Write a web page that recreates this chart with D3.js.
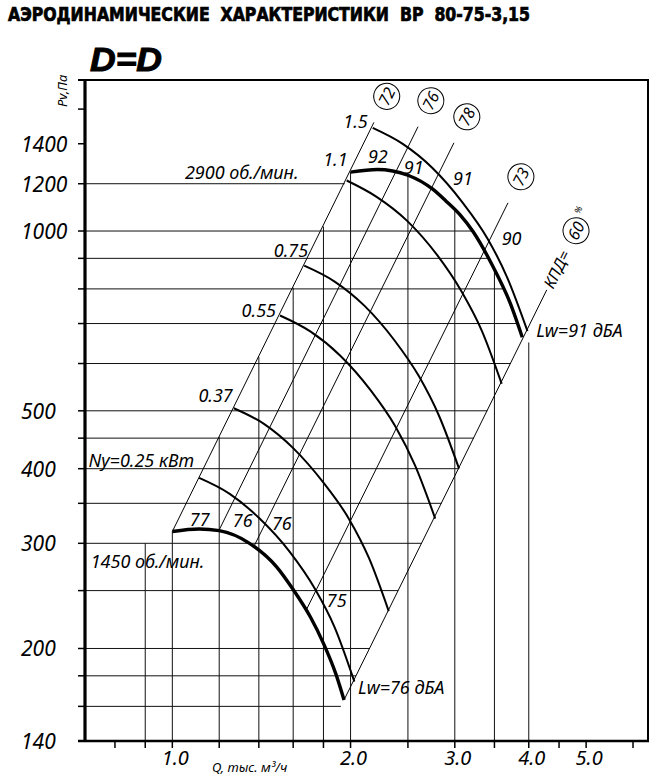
<!DOCTYPE html>
<html>
<head>
<meta charset="utf-8">
<script src="https://cdn.jsdelivr.net/npm/d3@7"></script>
<style>
  body { margin: 0; background: #fff; }
  text { font-family: 'Noto Sans', 'Open Sans', sans-serif; font-style: italic; fill: #000; }
</style>
</head>
<body>
<script>
// ---- values ----
const qTicks = [0.8, 0.9, 1.0, 1.2, 1.4, 1.6, 1.8, 2.0, 2.5, 3.0, 3.5, 4.0, 4.5, 5.0, 6.0];
const qTickLabels = [1.0, 2.0, 3.0, 4.0, 5.0];
const qGrid = [0.9, 1.0, 1.2, 1.4, 1.6, 1.8, 2.0, 2.5, 3.0, 3.5, 4.0];

const pTicks = [140, 160, 180, 200, 250, 300, 350, 400, 450, 500, 600, 700, 800, 900, 1000, 1200, 1400, 1600];
const pTickLabels = [140, 200, 300, 400, 500, 1000, 1200, 1400];
const pGrid = [160, 180, 200, 250, 300, 350, 400, 450, 500, 600, 700, 800, 900, 1000, 1200];

// fan curves, [Q thous. m3/h, Pv Pa]
const curve1450 = [[1.0, 314], [1.11, 317], [1.2, 315], [1.35, 300], [1.5, 274], [1.6, 251],
  [1.71, 226], [1.8, 204], [1.89, 181], [1.95, 164]];
const curve2900 = [[2.0, 1255], [2.22, 1268], [2.5, 1240], [2.75, 1176], [2.9, 1122], [3.06, 1065],
  [3.22, 998], [3.48, 872], [3.72, 758], [3.9, 664]];

const powerNames = ['Ny=0.25 кВт', '0.37', '0.55', '0.75', '1.1', '1.5'];
const power025 = [[1.11, 386], [1.25, 363], [1.4, 331], [1.58, 290], [1.74, 252], [1.88, 217], [2.03, 176]];
const power037 = [[1.27, 505], [1.43, 475], [1.6, 433], [1.8, 379], [1.99, 329], [2.15, 283], [2.32, 231]];
const power055 = [[1.52, 722], [1.71, 679], [1.92, 619], [2.16, 542], [2.38, 471], [2.57, 405], [2.78, 330]];
const power075 = [[1.67, 875], [1.88, 823], [2.11, 750], [2.37, 657], [2.61, 571], [2.82, 491], [3.05, 400]];
const power110 = [[1.97, 1215], [2.21, 1142], [2.49, 1041], [2.8, 912], [3.08, 792], [3.33, 682], [3.6, 555]];
const power150 = [[2.18, 1488], [2.45, 1399], [2.75, 1275], [3.09, 1117], [3.41, 970], [3.68, 835], [3.98, 680]];
const powerCurves = [power025, power037, power055, power075, power110, power150];

// efficiency lines (P ~ Q^2, straight on log-log paper)
const effNames = ['72', '76', '78', '73', '60'];
const effFrom = [[1.0, 314], [1.2, 316], [1.37, 295], [1.68, 231], [1.95, 164]];
const effTo = [[2.19, 1520], [2.6, 1495], [2.99, 1405], [3.69, 1115], [4.29, 797]];

// sound levels written between the efficiency lines
const noise2900 = ['92', '91', '91', '90'];
const noise2900At = [[2.14, 1300], [2.46, 1247], [2.98, 1195], [3.6, 948]];
const noise1450 = ['77', '76', '76', '75'];
const noise1450At = [[1.07, 321], [1.265, 320], [1.473, 316], [1.824, 235]];

const rpmNames = ['2900 об./мин.', '1450 об./мин.'];
const rpmAt = [[1.05, 1223], [0.728, 273]];

// ---- drawing ----
const W = 659, H = 776;
const svg = d3.select('body').append('svg').attr('width', W).attr('height', H);

const x = d3.scaleLog().domain([0.712, 6.36]).range([85, 648]);
const y = d3.scaleLog().domain([140, 1790]).range([741, 80]);

const L = Math.log;
const k72 = effFrom[0][1] / effFrom[0][0] ** 2;
const k60 = effFrom[4][1] / effFrom[4][0] ** 2;
const last = (a) => a[a.length - 1];

const pOnCurve = (pts, q) => {
  for (let i = 0; i < pts.length - 1; i++) {
    const [q0, p0] = pts[i], [q1, p1] = pts[i + 1];
    if (q >= q0 && q <= q1) {
      const t = (L(q) - L(q0)) / (L(q1) - L(q0));
      return Math.exp(L(p0) + t * (L(p1) - L(p0)));
    }
  }
  return last(pts)[1];
};

const qOnFalling = (pts, p) => {
  let top = d3.maxIndex(pts, (d) => d[1]);
  for (let i = top; i < pts.length - 1; i++) {
    const [q0, p0] = pts[i], [q1, p1] = pts[i + 1];
    if (p <= p0 && p >= p1) {
      const t = (L(p) - L(p0)) / (L(p1) - L(p0));
      return Math.exp(L(q0) + t * (L(q1) - L(q0)));
    }
  }
  return last(pts)[0];
};

// horizontal grid runs from the axis to the edge of the working field
const rightEdge = (p) => {
  if (p >= 1200) return Math.sqrt(p / k72);
  if (p <= last(curve2900)[1]) return Math.sqrt(p / k60);
  return qOnFalling(curve2900, p);
};
// vertical grid runs from the bottom up to the upper edge of the field
const topEdge = (q) => {
  if (q <= curve2900[0][0]) return Math.max(k72 * q * q, 300);
  if (q >= last(curve2900)[0]) return last(curve2900)[1] * 0.98;
  return pOnCurve(curve2900, q);
};

const grid = svg.append('g').attr('stroke', '#111').attr('stroke-width', 1);
grid.selectAll('line.h').data(pGrid).join('line').attr('class', 'h')
  .attr('x1', x.range()[0]).attr('x2', (d) => x(rightEdge(d)))
  .attr('y1', (d) => y(d)).attr('y2', (d) => y(d));
grid.selectAll('line.v').data(qGrid).join('line').attr('class', 'v')
  .attr('x1', (d) => x(d)).attr('x2', (d) => x(d))
  .attr('y1', y.range()[0]).attr('y2', (d) => y(topEdge(d)));

// efficiency lines
const effPix = effNames.map((n, i) => {
  const a = [x(effFrom[i][0]), y(effFrom[i][1])];
  const b = [x(effTo[i][0]), y(effTo[i][1])];
  const len = Math.hypot(b[0] - a[0], b[1] - a[1]);
  const u = [(b[0] - a[0]) / len, (b[1] - a[1]) / len];
  return { name: n, a, b, u, ang: Math.atan2(u[1], u[0]) * 180 / Math.PI };
});

svg.append('g').attr('stroke', '#000').attr('stroke-width', 1)
  .selectAll('line').data(effPix).join('line')
  .attr('x1', (d) => d.a[0]).attr('y1', (d) => d.a[1])
  .attr('x2', (d) => d.b[0]).attr('y2', (d) => d.b[1]);

const circ = svg.append('g').selectAll('g').data(effPix).join('g')
  .attr('transform', (d) => {
    const dist = d.name === '60' ? 66 : 29;
    return `translate(${d.b[0] + d.u[0] * dist},${d.b[1] + d.u[1] * dist})rotate(${d.ang})`;
  });
circ.append('circle').attr('r', 13).attr('fill', '#fff').attr('stroke', '#000').attr('stroke-width', 1);
circ.append('text').text((d) => d.name)
  .attr('text-anchor', 'middle').attr('dy', '0.36em').attr('font-size', 16);
circ.filter((d) => d.name === '60').append('text').text('%')
  .attr('x', 16).attr('y', -4).attr('font-size', 9);

const e60 = effPix[4];
svg.append('text').text('КПД=')
  .attr('transform', `translate(${e60.b[0] + e60.u[0] * 3},${e60.b[1] + e60.u[1] * 3})rotate(${e60.ang})`)
  .attr('dy', '0.36em').attr('font-size', 16);

// fan curves
const line = d3.line().x((d) => x(d[0])).y((d) => y(d[1])).curve(d3.curveMonotoneX);

svg.append('g').attr('fill', 'none').attr('stroke', '#000').attr('stroke-width', 2)
  .selectAll('path').data(powerCurves).join('path').attr('d', line);

svg.append('g').attr('fill', 'none').attr('stroke', '#000').attr('stroke-width', 3.4)
  .selectAll('path').data([curve1450, curve2900]).join('path').attr('d', line);

// labels on the curves
const labelSize = 18;
const powerOffsets = [[-5, -11], [-1, -6], [-4, 1], [4, -9], [1, -15], [-5, 0]];
svg.append('g').attr('font-size', labelSize).selectAll('text').data(powerNames).join('text')
  .text((d) => d)
  .attr('text-anchor', 'end')
  .attr('x', (d, i) => x(powerCurves[i][0][0]) + powerOffsets[i][0])
  .attr('y', (d, i) => y(powerCurves[i][0][1]) + powerOffsets[i][1]);

const noiseG = svg.append('g').attr('font-size', labelSize);
noiseG.selectAll('text.a').data(noise2900).join('text').attr('class', 'a')
  .text((d) => d)
  .attr('x', (d, i) => x(noise2900At[i][0])).attr('y', (d, i) => y(noise2900At[i][1]));
noiseG.selectAll('text.b').data(noise1450).join('text').attr('class', 'b')
  .text((d) => d)
  .attr('x', (d, i) => x(noise1450At[i][0])).attr('y', (d, i) => y(noise1450At[i][1]));

svg.append('g').attr('font-size', labelSize).selectAll('text').data(rpmNames).join('text')
  .text((d) => d)
  .attr('x', (d, i) => x(rpmAt[i][0])).attr('y', (d, i) => y(rpmAt[i][1]));

svg.append('text').text('Lw=91 дБА').attr('font-size', labelSize)
  .attr('x', x(last(curve2900)[0]) + 14).attr('y', y(last(curve2900)[1]));
svg.append('text').text('Lw=76 дБА').attr('font-size', labelSize)
  .attr('x', x(last(curve1450)[0]) + 14).attr('y', y(last(curve1450)[1]) - 6);

// frame and axes
const frame = svg.append('g').attr('stroke', '#000');
frame.append('line').attr('x1', 78).attr('x2', 648).attr('y1', 80).attr('y2', 80).attr('stroke-width', 2);
frame.append('line').attr('x1', 648).attr('x2', 648).attr('y1', 79).attr('y2', 742).attr('stroke-width', 2);
frame.append('line').attr('x1', 78).attr('x2', 649).attr('y1', 741).attr('y2', 741).attr('stroke-width', 2.6);
frame.append('line').attr('x1', 85).attr('x2', 85).attr('y1', 79).attr('y2', 742).attr('stroke-width', 3.2);

frame.selectAll('line.yt').data(pTicks).join('line').attr('class', 'yt')
  .attr('x1', 78).attr('x2', 85).attr('y1', (d) => y(d)).attr('y2', (d) => y(d)).attr('stroke-width', 1.5);
frame.selectAll('line.xt').data(qTicks).join('line').attr('class', 'xt')
  .attr('x1', (d) => x(d)).attr('x2', (d) => x(d)).attr('y1', 741).attr('y2', 748).attr('stroke-width', 1.5);

svg.append('g').attr('font-size', 21).selectAll('text').data(pTickLabels).join('text')
  .text((d) => d).attr('x', 21).attr('y', (d) => y(d) + 8);
svg.append('g').attr('font-size', 20).selectAll('text').data(qTickLabels).join('text')
  .text((d) => d.toFixed(1)).attr('text-anchor', 'middle')
  .attr('x', (d) => x(d) + 3).attr('y', 765);

svg.append('text').text('Q, тыс. м³/ч').attr('x', 212).attr('y', 772).attr('font-size', 13);
svg.append('text').text('Pv,Па').attr('transform', 'translate(67,107)rotate(-90)').attr('font-size', 13);

// headings
svg.append('text').text('АЭРОДИНАМИЧЕСКИЕ  ХАРАКТЕРИСТИКИ  ВР  80-75-3,15')
  .attr('x', 8).attr('y', 21)
  .style('font-family', "'DejaVu Sans', sans-serif").style('font-style', 'normal')
  .style('font-weight', '900').style('font-stretch', 'condensed').style('white-space', 'pre')
  .attr('stroke', '#000').attr('stroke-width', 0.7)
  .attr('font-size', 19).attr('textLength', 522).attr('lengthAdjust', 'spacingAndGlyphs');
svg.append('text').text('D=D').attr('x', 90).attr('y', 71)
  .style('font-family', "'Liberation Sans', Arial, sans-serif").style('font-weight', 'bold')
  .attr('stroke', '#000').attr('stroke-width', 1)
  .attr('font-size', 33).attr('textLength', 72).attr('lengthAdjust', 'spacingAndGlyphs');
</script>
</body>
</html>
